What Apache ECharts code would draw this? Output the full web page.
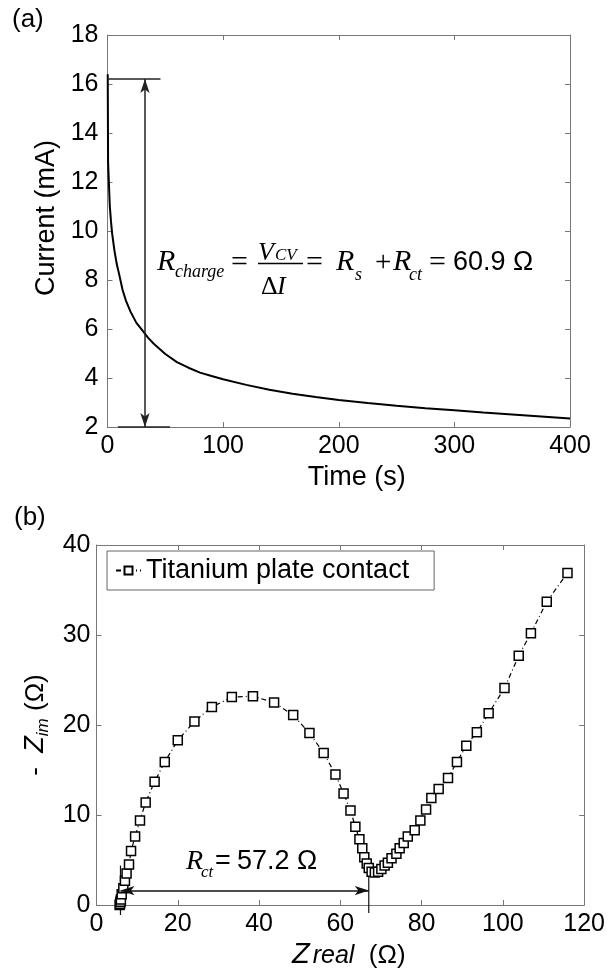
<!DOCTYPE html>
<html>
<head>
<meta charset="utf-8">
<script src="https://cdn.jsdelivr.net/npm/echarts@6/dist/echarts.min.js"></script>
<style>
html, body { margin: 0; padding: 0; background: #fff; }
#chart { width: 608px; height: 974px; }
</style>
</head>
<body>
<div id="chart"></div>
<script>
// (a) charging current
var timeS = [0.2, 0.5, 1, 2, 3, 4, 6, 8, 10, 13, 16, 20, 25, 30, 35, 40, 50, 60, 70, 80, 90, 100,
  120, 140, 160, 180, 200, 225, 250, 275, 300, 325, 350, 375, 400];
var currentMA = [16.4, 12.8, 12.2, 11.0, 10.4, 9.9, 9.2, 8.65, 8.25, 7.6, 7.15, 6.7, 6.25, 5.95, 5.65, 5.4, 4.98, 4.65, 4.42, 4.22, 4.08, 3.95,
  3.72, 3.52, 3.36, 3.22, 3.1, 2.98, 2.87, 2.77, 2.68, 2.59, 2.51, 2.43, 2.35];

// (b) impedance
var zReal = [5.7, 5.8, 5.9, 6.0, 6.2, 6.6, 7.0, 7.4, 8.0, 8.5, 9.5, 10.7, 12.1, 14.3, 16.8, 20.0, 24.1, 28.4, 33.3, 38.5,
  43.7, 48.4, 52.4, 55.9, 58.8, 60.8, 62.5, 63.7, 64.7, 65.4, 65.9, 66.5, 67.0, 67.7, 68.5, 69.3, 70.1, 70.9, 71.7,
  72.6, 73.8, 74.6, 75.6, 76.6, 78.3, 79.7, 81.1, 82.4, 84.2, 86.5, 88.7, 91.0, 93.6, 96.5, 100.4, 103.9, 106.9, 110.8, 115.9];
var zIm = [0.0, 0.15, 0.35, 0.6, 1.2, 1.85, 2.7, 3.5, 4.5, 6.0, 7.6, 9.4, 11.4, 13.7, 15.9, 18.3, 20.4, 22.0, 23.1, 23.2,
  22.5, 21.1, 19.1, 16.9, 14.5, 12.4, 10.5, 8.7, 7.3, 6.3, 5.3, 4.6, 4.1, 3.7, 3.6, 3.7, 4.0, 4.4, 4.7,
  5.2, 5.7, 6.3, 6.9, 7.6, 8.3, 9.4, 10.6, 11.9, 12.9, 14.1, 15.9, 17.7, 19.2, 21.3, 24.1, 27.7, 30.2, 33.7, 36.9];

// axis ranges
var rangeTime = [0, 400, 100];
var rangeCurrent = [2, 18, 2];
var rangeZReal = [0, 120, 20];
var rangeZIm = [0, 40, 10];

// annotations (data units)
var deltaI = { t: 32.4, top: 16.2, bottom: 2, capFrom: 0, capTo: 45.8, baseFrom: 9, baseTo: 54 };
var rctMark = { from: 5.9, to: 67.0, at: 1.6, leftLine: [4.4, -1.1], rightLine: [3.9, -0.9] };

var SANS = 'Liberation Sans, Arial, sans-serif';
var SERIF = 'Liberation Serif, Times New Roman, serif';
var AXIS_GREY = '#777';

function pairs(xs, ys) {
  var out = [];
  for (var i = 0; i < xs.length; i++) out.push([xs[i], ys[i]]);
  return out;
}

function mainAxis(grid, pos, r, extra) {
  var ax = {
    type: 'value', gridIndex: grid, position: pos,
    min: r[0], max: r[1], interval: r[2],
    axisLine: { show: true, onZero: false, lineStyle: { color: AXIS_GREY, width: 1 } },
    axisTick: { show: true, inside: true, length: 5, lineStyle: { color: AXIS_GREY } },
    splitLine: { show: false },
    axisLabel: { show: true, color: '#000', fontSize: 25, fontFamily: SANS, margin: 7 }
  };
  for (var k in extra) ax[k] = extra[k];
  return ax;
}

function mirrorAxis(grid, pos, r) {
  return mainAxis(grid, pos, r, { axisLabel: { show: false } });
}

var chart = echarts.init(document.getElementById('chart'), null, { renderer: 'canvas' });

function txt(x, y, s, font) {
  return {
    type: 'text', x: x, y: y, silent: true,
    style: { text: s, font: font, fill: '#000', align: 'left', verticalAlign: 'middle', textAlign: 'left', textVerticalAlign: 'middle' }
  };
}

var option = {
  animation: false,
  backgroundColor: '#fff',
  grid: [
    { left: 107.5, right: 38, top: 35, bottom: 547 },
    { left: 96.5, right: 23, top: 545, bottom: 69 }
  ],
  xAxis: [
    mainAxis(0, 'bottom', rangeTime, {
      name: 'Time (s)', nameLocation: 'middle', nameGap: 37,
      nameTextStyle: { color: '#000', fontSize: 27, fontFamily: SANS, padding: [0, 0, 0, 36] }
    }),
    mirrorAxis(0, 'top', rangeTime),
    mainAxis(1, 'bottom', rangeZReal, {
      name: '{z|Z}{r|real}{n|  (Ω)}', nameLocation: 'middle', nameGap: 32,
      nameTextStyle: {
        color: '#000', padding: [0, 0, 0, 17],
        rich: {
          z: { fontSize: 29, fontStyle: 'italic', fontFamily: SANS, lineHeight: 32, verticalAlign: 'bottom' },
          r: { fontSize: 25, fontStyle: 'italic', fontFamily: SANS, lineHeight: 30, verticalAlign: 'bottom', padding: [0, 0, 0, 3] },
          n: { fontSize: 26, fontFamily: SANS, lineHeight: 32, verticalAlign: 'bottom' }
        }
      }
    }),
    mirrorAxis(1, 'top', rangeZReal)
  ],
  yAxis: [
    mainAxis(0, 'left', rangeCurrent, {
      name: 'Current (mA)', nameLocation: 'middle', nameGap: 44,
      axisLabel: { show: true, color: '#000', fontSize: 25, fontFamily: SANS, margin: 9 },
      nameTextStyle: { color: '#000', fontSize: 27, fontFamily: SANS, padding: [0, 0, 0, 26] }
    }),
    mirrorAxis(0, 'right', rangeCurrent),
    mainAxis(1, 'left', rangeZIm, {
      name: '{m|-  }{z|Z}{s|im}{n| (Ω)}', nameLocation: 'middle', nameGap: 44,
      axisLabel: { show: true, color: '#000', fontSize: 25, fontFamily: SANS, margin: 6 },
      nameTextStyle: {
        color: '#000',
        rich: {
          m: { fontSize: 26, fontFamily: SANS, lineHeight: 32 },
          z: { fontSize: 27, fontStyle: 'italic', fontFamily: SANS, lineHeight: 32 },
          s: { fontSize: 17, fontStyle: 'italic', fontFamily: SANS, lineHeight: 19, verticalAlign: 'bottom' },
          n: { fontSize: 26, fontFamily: SANS, lineHeight: 32 }
        }
      }
    }),
    mirrorAxis(1, 'right', rangeZIm)
  ],
  legend: {
    data: ['Titanium plate contact'],
    left: 107, top: 551,
    orient: 'horizontal',
    padding: [6, 25, 6, 8],
    itemWidth: 25, itemHeight: 10,
    borderColor: '#666', borderWidth: 1, borderRadius: 0,
    backgroundColor: '#fff',
    textStyle: { color: '#000', fontSize: 27, fontFamily: SANS }
  },
  series: [
    {
      type: 'line', xAxisIndex: 0, yAxisIndex: 0,
      data: pairs(timeS, currentMA),
      showSymbol: false, symbol: 'none', smooth: false,
      lineStyle: { color: '#000', width: 2 },
      markLine: {
        silent: true, symbol: ['none', 'none'], symbolSize: [7, 14],
        label: { show: false },
        lineStyle: { color: '#222', width: 1.5, type: 'solid' },
        data: [
          [{ coord: [deltaI.capFrom, deltaI.top] }, { coord: [deltaI.capTo, deltaI.top] }],
          [{ coord: [deltaI.baseFrom, deltaI.bottom] }, { coord: [deltaI.baseTo, deltaI.bottom] }],
          [{ coord: [deltaI.t, deltaI.top], symbol: 'arrow' }, { coord: [deltaI.t, deltaI.bottom], symbol: 'arrow' }]
        ]
      }
    },
    {
      name: 'Titanium plate contact',
      type: 'line', xAxisIndex: 2, yAxisIndex: 2,
      data: pairs(zReal, zIm),
      symbol: 'rect', symbolSize: 9, showSymbol: true,
      itemStyle: { color: '#fff', borderColor: '#000', borderWidth: 1.5 },
      lineStyle: { color: '#000', width: 1.2, type: [5, 3, 1, 3] },
      z: 3,
      markLine: {
        silent: true, symbol: ['none', 'none'], symbolSize: [7, 14],
        label: { show: false },
        lineStyle: { color: '#111', width: 1.5, type: 'solid' },
        data: [
          [{ coord: [rctMark.from, rctMark.at], symbol: 'arrow' }, { coord: [rctMark.to, rctMark.at], symbol: 'arrow' }]
        ]
      }
    },
    {
      type: 'line', xAxisIndex: 2, yAxisIndex: 2, clip: false,
      data: [[rctMark.from, rctMark.leftLine[0]], [rctMark.from, rctMark.leftLine[1]]],
      symbol: 'none', lineStyle: { color: '#111', width: 1.2 }, silent: true
    },
    {
      type: 'line', xAxisIndex: 2, yAxisIndex: 2, clip: false,
      data: [[rctMark.to, rctMark.rightLine[0]], [rctMark.to, rctMark.rightLine[1]]],
      symbol: 'none', lineStyle: { color: '#111', width: 1.2 }, silent: true
    }
  ],
  graphic: [
    txt(12, 20, '(a)', '26px ' + SANS),
    txt(14, 518, '(b)', '26px ' + SANS),
    // R_charge = V_CV / ΔI = R_s + R_ct = 60.9 Ω
    txt(157, 262, 'R', 'italic 30px ' + SERIF),
    txt(175, 272, 'charge', 'italic 18px ' + SERIF),
    txt(231, 263, '=', '30px ' + SERIF),
    txt(258, 253, 'V', 'italic 26px ' + SERIF),
    txt(275, 256, 'CV', 'italic 17px ' + SERIF),
    { type: 'line', silent: true, shape: { x1: 258, y1: 263.5, x2: 303, y2: 263.5 }, style: { stroke: '#000', lineWidth: 1.3 } },
    txt(261, 287, 'Δ', '26px ' + SERIF),
    txt(277, 287, 'I', 'italic 26px ' + SERIF),
    txt(306, 263, '=', '30px ' + SERIF),
    txt(336, 262, 'R', 'italic 30px ' + SERIF),
    txt(355, 275, 's', 'italic 18px ' + SERIF),
    txt(375, 263, '+', '29px ' + SERIF),
    txt(393, 262, 'R', 'italic 30px ' + SERIF),
    txt(409, 275, 'ct', 'italic 18px ' + SERIF),
    txt(429, 263, '=', '30px ' + SERIF),
    txt(453, 263, '60.9 Ω', '27px ' + SANS),
    // R_ct = 57.2 Ω
    txt(186, 862, 'R', 'italic 28px ' + SERIF),
    txt(201, 873, 'ct', 'italic 17px ' + SERIF),
    txt(215, 862, '=', '27px ' + SANS),
    txt(237, 862, '57.2 Ω', '27px ' + SANS)
  ]
};

chart.setOption(option);
</script>
</body>
</html>
